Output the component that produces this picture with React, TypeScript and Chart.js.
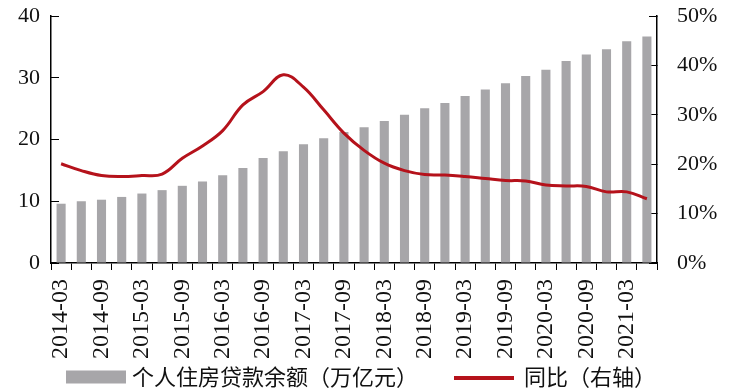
import React, { useEffect, useRef } from 'react';
import { Chart, registerables } from 'chart.js';

Chart.register(...registerables);

const categories = [
  '2014-03', '2014-06', '2014-09', '2014-12',
  '2015-03', '2015-06', '2015-09', '2015-12',
  '2016-03', '2016-06', '2016-09', '2016-12',
  '2017-03', '2017-06', '2017-09', '2017-12',
  '2018-03', '2018-06', '2018-09', '2018-12',
  '2019-03', '2019-06', '2019-09', '2019-12',
  '2020-03', '2020-06', '2020-09', '2020-12',
  '2021-03', '2021-06',
];

const loanBalance = [
  9.6, 10.0, 10.25, 10.7, 11.25, 11.8, 12.5, 13.2, 14.2, 15.4,
  17.0, 18.1, 19.25, 20.2, 21.2, 22.0, 23.0, 24.0, 25.05, 25.9,
  27.05, 28.1, 29.1, 30.3, 31.3, 32.7, 33.75, 34.6, 35.9, 36.7,
];

const yoyGrowth = [
  20.1, 18.7, 17.7, 17.5, 17.7, 18.0, 21.2, 23.7, 26.8, 32.0,
  34.7, 38.1, 35.6, 31.0, 26.3, 22.8, 20.2, 18.7, 17.9, 17.8,
  17.5, 17.1, 16.7, 16.6, 15.8, 15.6, 15.5, 14.4, 14.4, 13.0,
];

const leftMax = 40;
const rightMax = 50;

const barLabel = '个人住房贷款余额（万亿元）';
const lineLabel = '同比（右轴）';

const BAR_COLOR = '#A7A6A9';
const LINE_COLOR = '#B5121B';

const bottomLegend = {
  id: 'bottomLegend',
  afterDraw(chart: any) {
    const ctx = chart.ctx as CanvasRenderingContext2D;
    const datasets = chart.data.datasets;
    const bar = datasets.find((d: any) => d.type === 'bar');
    const line = datasets.find((d: any) => d.type === 'line');
    ctx.save();
    ctx.font = '22px "Noto Sans CJK SC"';
    ctx.textBaseline = 'middle';
    ctx.fillStyle = '#111';
    const y = 377;
    const boxW = 60;
    const w1 = ctx.measureText(bar.label).width;
    const w2 = ctx.measureText(line.label).width;
    const total = boxW + 6 + w1 + 36 + boxW + 10 + w2;
    let x = 361 - total / 2;
    ctx.fillStyle = bar.backgroundColor;
    ctx.fillRect(x, y - 6.5, boxW, 13);
    x += boxW + 6;
    ctx.fillStyle = '#111';
    ctx.fillText(bar.label, x, y);
    x += w1 + 36;
    ctx.strokeStyle = line.borderColor;
    ctx.lineWidth = 4;
    ctx.beginPath();
    ctx.moveTo(x, y + 1);
    ctx.lineTo(x + boxW, y + 1);
    ctx.stroke();
    x += boxW + 10;
    ctx.fillStyle = '#111';
    ctx.fillText(line.label, x, y);
    ctx.restore();
  },
};

export default function App() {
  const canvasRef = useRef<HTMLCanvasElement | null>(null);

  useEffect(() => {
    document.body.style.margin = '0';
    const canvas = canvasRef.current;
    if (!canvas) return;
    const tickFont = { family: '"Liberation Serif", "Times New Roman", serif', size: 22 };
    const xFont = { family: '"Liberation Serif", "Times New Roman", serif', size: 24 };
    const chart = new Chart(canvas, {
      type: 'bar',
      data: {
        labels: categories,
        datasets: [
          {
            type: 'line',
            label: lineLabel,
            data: yoyGrowth,
            yAxisID: 'y1',
            borderColor: LINE_COLOR,
            backgroundColor: LINE_COLOR,
            borderWidth: 3,
            pointRadius: 0,
            tension: 0.4,
            order: 0,
          } as any,
          {
            type: 'bar',
            label: barLabel,
            data: loanBalance,
            yAxisID: 'y',
            backgroundColor: BAR_COLOR,
            barPercentage: 0.45,
            categoryPercentage: 1,
            order: 1,
          } as any,
        ],
      },
      options: {
        responsive: false,
        animation: false,
        layout: { padding: { top: 16, bottom: 0, left: 0, right: 0 } },
        plugins: {
          legend: { display: false },
          tooltip: { enabled: false },
        },
        scales: {
          x: {
            type: 'category',
            offset: true,
            grid: {
              offset: true,
              drawOnChartArea: false,
              drawTicks: true,
              tickLength: 7,
              color: '#000',
              lineWidth: 1,
            },
            border: { color: '#000', width: 1.5 },
            ticks: {
              autoSkip: false,
              minRotation: 90,
              maxRotation: 90,
              padding: 9,
              color: '#111',
              font: xFont,
              callback: (_v: any, i: number) => (i % 2 === 0 ? categories[i] : ''),
            },
            afterFit: (scale: any) => {
              scale.height = 128;
              scale.paddingLeft = 0;
              scale.paddingRight = 0;
            },
          },
          y: {
            position: 'left',
            min: 0,
            max: leftMax,
            grid: {
              drawOnChartArea: false,
              drawTicks: true,
              tickLength: -8,
              color: '#000',
              lineWidth: 1,
            },
            border: { color: '#000', width: 1.5 },
            ticks: {
              stepSize: 10,
              padding: 19,
              color: '#111',
              font: tickFont,
            },
            afterFit: (scale: any) => {
              scale.width = 51;
              scale.paddingTop = 0;
              scale.paddingBottom = 0;
            },
          },
          y1: {
            position: 'right',
            min: 0,
            max: rightMax,
            grid: {
              drawOnChartArea: false,
              drawTicks: true,
              tickLength: -8,
              color: '#000',
              lineWidth: 1,
            },
            border: { color: '#000', width: 1.5 },
            ticks: {
              stepSize: 10,
              padding: 28,
              color: '#111',
              font: tickFont,
              callback: (v: any) => `${v}%`,
            },
            afterFit: (scale: any) => {
              scale.width = 77;
              scale.paddingTop = 0;
              scale.paddingBottom = 0;
            },
          },
        },
      },
      plugins: [bottomLegend],
    });
    return () => chart.destroy();
  }, []);

  return (
    <div style={{ width: 734, height: 391, background: '#fff' }}>
      <canvas ref={canvasRef} width={734} height={391} style={{ display: 'block' }} />
    </div>
  );
}
